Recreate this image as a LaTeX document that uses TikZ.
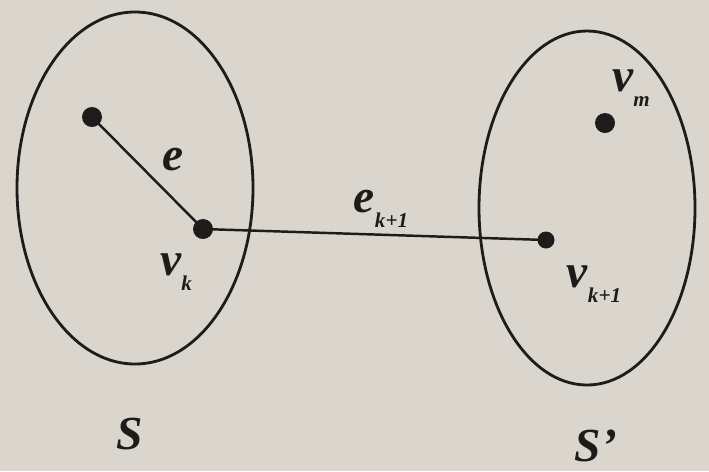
\documentclass[tikz,border=0pt]{standalone}
\usepackage{fontspec}
\setmainfont{Liberation Serif}
\usepackage[dvipsnames]{xcolor}
\usetikzlibrary{calc,positioning}
\definecolor{paper}{RGB}{218,214,206}
\definecolor{ink}{RGB}{30,28,26}
\newcommand{\sublbl}[2]{#1\raisebox{-0.32em}{\fontsize{12}{13}\selectfont #2}}

\begin{document}
\begin{tikzpicture}[x=0.02cm, y=-0.02cm,
    vertex/.style={fill=ink},
    setline/.style={draw=ink, line width=1.6pt},
    edgeline/.style={draw=ink, line width=1.4pt},
    lbl/.style={ink, inner sep=0pt, font=\fontsize{27}{30}\selectfont\bfseries\itshape}]
            % Paper and frame
            \fill[paper] (0, 0) rectangle (709, 471);
            \useasboundingbox (0, 0) rectangle (709, 471);
            % Draw the two sets
            \draw[setline] (135, 188) ellipse [x radius=118, y radius=176];
            \draw[setline] (587, 208) ellipse [x radius=108, y radius=177];
            % Define points
            \coordinate (A) at (92, 117);
            \coordinate (vk) at (203, 229);
            \coordinate (vk1) at (546, 240);
            \coordinate (vm) at (605, 123);
            % Draw the edges
            \draw[edgeline] (A) -- (vk);
            \draw[edgeline] (vk) -- (vk1);
            % Mark points
            \fill[vertex] (A) circle (10);
            \fill[vertex] (vk) circle (10);
            \fill[vertex] (vk1) circle (8.5);
            \fill[vertex] (vm) circle (10);
            % Label the graph
            \node[lbl] (le) at (173, 160) {e};
            \node[lbl] (lek) at (381, 209) {\sublbl{e}{k+1}};
            \node[lbl] (lvk) at (176, 272) {\sublbl{v}{k}};
            \node[lbl] (lvk1) at (594, 284) {\sublbl{v}{k+1}};
            \node[lbl] (lvm) at (631, 88) {\sublbl{v}{m}};
            \node[lbl] (lS) at (130, 434) {S};
            \node[lbl] (lSp) at (596, 446) {S'};
          \end{tikzpicture}
\end{document}
